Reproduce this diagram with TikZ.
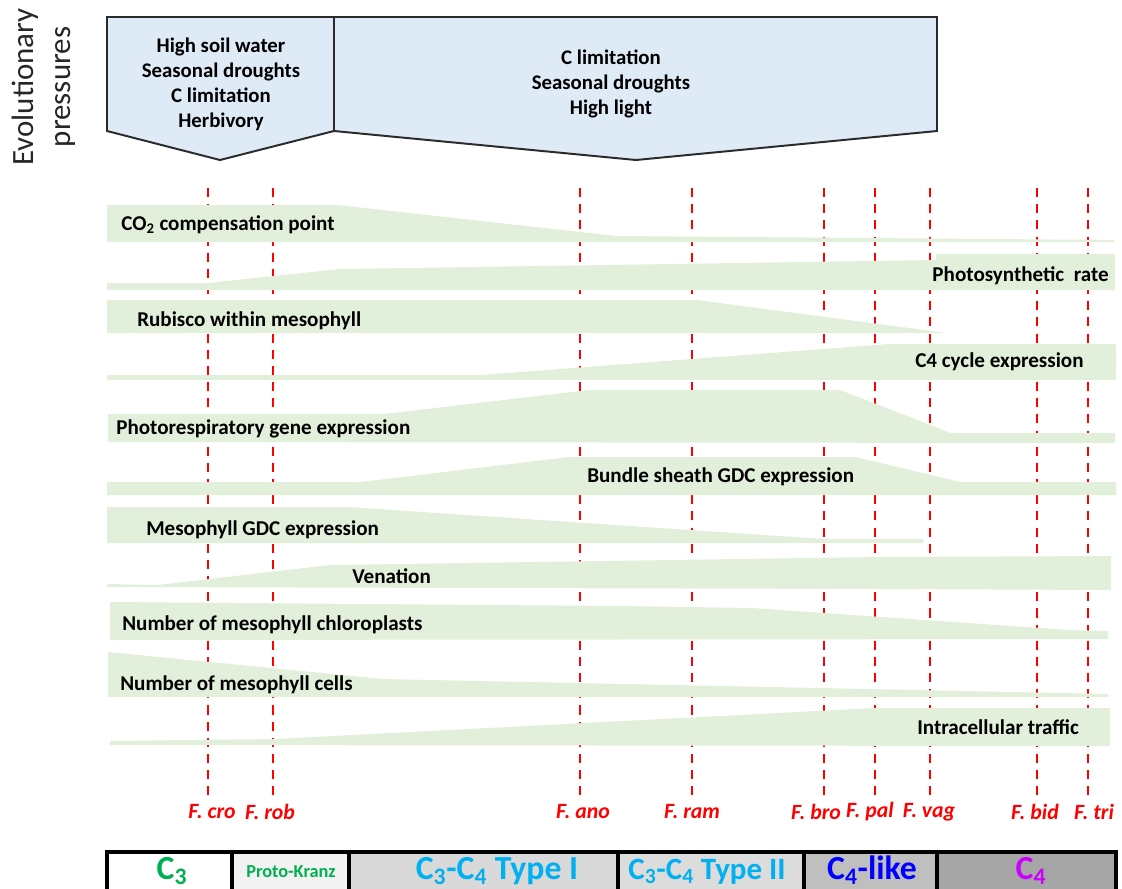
\documentclass[tikz,border=0pt]{standalone}
\usepackage{fontspec}
\setmainfont{Carlito}
\usetikzlibrary{positioning,calc}
\definecolor{prfill}{HTML}{DEEBF7}
\definecolor{prline}{HTML}{2B2B2B}
\definecolor{bandgreen}{HTML}{E2EFDA}
\definecolor{taxred}{HTML}{FF0000}
\definecolor{cgreen}{HTML}{00B050}
\definecolor{ccyan}{HTML}{00B0F0}
\definecolor{cblue}{HTML}{0000FF}
\definecolor{cviolet}{HTML}{CC00FF}
\definecolor{gproto}{HTML}{F2F2F2}
\definecolor{gtype}{HTML}{D9D9D9}
\definecolor{glike}{HTML}{BFBFBF}
\definecolor{gcfour}{HTML}{A6A6A6}
\newcommand{\csub}[1]{\textsubscript{#1}}
\tikzset{
  pressbox/.style={draw=prline, line width=1.4pt, fill=prfill, line join=miter},
  presstext/.style={align=center, font=\bfseries\fontsize{14.8}{17.8}\selectfont},
  band/.style={fill=bandgreen},
  bandlabel/.style={anchor=west, inner sep=0pt, font=\bfseries\fontsize{15}{17}\selectfont},
  taxline/.style={draw=taxred, line width=1.8pt, dash pattern=on 6.5pt off 5pt, shorten >=3pt},
  taxon/.style={text=taxred, inner sep=2pt, font=\bfseries\itshape\fontsize{15.5}{18}\selectfont},
  stagecell/.style={draw=black, line width=2.2pt},
  stagetext/.style={anchor=base, font=\bfseries\fontsize{24}{28}\selectfont}}

\begin{document}
\begin{tikzpicture}[x=0.25mm, y=-0.25mm]
    \clip (0,0) rectangle (1122,888);
    \node[rotate=90, align=center, text=black!85, font=\fontsize{22}{26.5}\selectfont] (evo) at (44,87)
      {Evolutionary\\ pressures};
    % pressures
    \draw[pressbox] (107,17) -- (334,17) -- (334,131) -- (220,160) -- (107,131) -- cycle;
    \draw[pressbox] (334,17) -- (937,17) -- (937,131) -- (636,160) -- (334,131) -- cycle;
    \node[presstext] (early) at (221,84)
      {High soil water\\ Seasonal droughts\\ C limitation\\ Herbivory};
    \node[presstext] (late) at (611,84)
      {C limitation\\ Seasonal droughts\\ High light};
    % species
    \node[taxon] (cro) at (212,812) {F. cro};
    \node[taxon] (rob) at (270,812) {F. rob};
    \node[taxon] (ano) at (583,812) {F. ano};
    \node[taxon] (ram) at (692,812) {F. ram};
    \node[taxon] (bro) at (816,812) {F. bro};
    \node[taxon] (pal) at (870,812) {F. pal};
    \node[taxon] (vag) at (929,812) {F. vag};
    \node[taxon] (bid) at (1035,812) {F. bid};
    \node[taxon] (tri) at (1094,812) {F. tri};
    \coordinate (crotop) at (208,188);
    \coordinate (robtop) at (273,188);
    \coordinate (anotop) at (580,188);
    \coordinate (ramtop) at (692,188);
    \coordinate (brotop) at (824,188);
    \coordinate (paltop) at (875,188);
    \coordinate (vagtop) at (930,188);
    \coordinate (bidtop) at (1037,188);
    \coordinate (tritop) at (1088,188);
    \draw[taxline] (crotop) -- (crotop |- cro.north);
    \draw[taxline] (robtop) -- (robtop |- rob.north);
    \draw[taxline] (anotop) -- (anotop |- ano.north);
    \draw[taxline] (ramtop) -- (ramtop |- ram.north);
    \draw[taxline] (brotop) -- (brotop |- bro.north);
    \draw[taxline] (paltop) -- (paltop |- pal.north);
    \draw[taxline] (vagtop) -- (vagtop |- vag.north);
    \draw[taxline] (bidtop) -- (bidtop |- bid.north);
    \draw[taxline] (tritop) -- (tritop |- tri.north);
    % traits
    \fill[band] (107,205) -- (338,205) -- (616,236) -- (1114,240) -- (1114,242) -- (107,242) -- cycle;
    \fill[band] (107,283) -- (208,283) -- (340,269) -- (936,260) -- (936,254) -- (1115,254)
      -- (1115,290) -- (107,290) -- cycle;
    \fill[band] (107,300) -- (697,300) -- (947,333) -- (107,333) -- cycle;
    \fill[band] (107,375) -- (481,375) -- (889,344) -- (1116,344) -- (1116,380) -- (107,380) -- cycle;
    \fill[band] (108,414) -- (384,414) -- (589,390) -- (840,390) -- (951,433) -- (1115,433)
      -- (1115,443) -- (108,442) -- cycle;
    \fill[band] (107,482) -- (361,482) -- (569,457) -- (856,457) -- (960,482) -- (1116,482)
      -- (1116,495) -- (107,495) -- cycle;
    \fill[band] (107,507) -- (348,507) -- (824,539) -- (923,539) -- (923,543) -- (107,543) -- cycle;
    \fill[band] (107,584) -- (158,585) -- (330,565) -- (877,557) -- (1111,556) -- (1111,590)
      -- (877,589) -- (107,587) -- cycle;
    \fill[band] (110,602) -- (620,606) -- (752,608) -- (1069,630) -- (1108,631) -- (1108,639)
      -- (110,640) -- cycle;
    \fill[band] (108,652) -- (383,679) -- (1108,694) -- (1108,697) -- (108,697) -- cycle;
    \fill[band] (110,741) -- (275,739) -- (875,708) -- (1110,708) -- (1110,746) -- (110,745) -- cycle;
    \node[bandlabel] (co2) at (121,225) {CO\csub{2} compensation point};
    \node[bandlabel, anchor=east] (rate) at (1109,276) {Photosynthetic~~rate};
    \node[bandlabel] (rubisco) at (137,321) {Rubisco within mesophyll};
    \node[bandlabel] (cycle) at (915,362) {C4 cycle expression};
    \node[bandlabel] (photoresp) at (116,429) {Photorespiratory gene expression};
    \node[bandlabel] (bsgdc) at (587,477) {Bundle sheath GDC expression};
    \node[bandlabel] (mgdc) at (146,530) {Mesophyll GDC expression};
    \node[bandlabel] (venation) at (352,576) {Venation};
    \node[bandlabel] (chloro) at (122,625) {Number of mesophyll chloroplasts};
    \node[bandlabel] (cells) at (120,685) {Number of mesophyll cells};
    \node[bandlabel] (traffic) at (917,727) {Intracellular traffic};
    % photosynthetic types
    \draw[stagecell, fill=white] (107,852) rectangle (232,895);
    \draw[stagecell, fill=gproto] (232,852) rectangle (349,895);
    \draw[stagecell, fill=gtype] (349,852) rectangle (618,895);
    \draw[stagecell, fill=gtype!92!white] (618,852) rectangle (804,895);
    \draw[stagecell, fill=glike] (804,852) rectangle (937,895);
    \draw[stagecell, fill=gcfour] (937,852) rectangle (1116,895);
    \node[stagetext, text=cgreen] (cthree) at (172,879) {C\csub{3}};
    \node[stagetext, text=cgreen, font=\bfseries\fontsize{13}{15}\selectfont] (proto) at (291,877) {Proto-Kranz};
    \node[stagetext, text=ccyan] (typeone) at (497,879) {C\csub{3}-C\csub{4} Type I};
    \node[stagetext, text=ccyan, font=\bfseries\fontsize{22}{26}\selectfont] (typetwo) at (707,879) {C\csub{3}-C\csub{4} Type II};
    \node[stagetext, text=cblue] (clike) at (872,879) {C\csub{4}-like};
    \node[stagetext, text=cviolet] (cfour) at (1031,879) {C\csub{4}};
\end{tikzpicture}
\end{document}
